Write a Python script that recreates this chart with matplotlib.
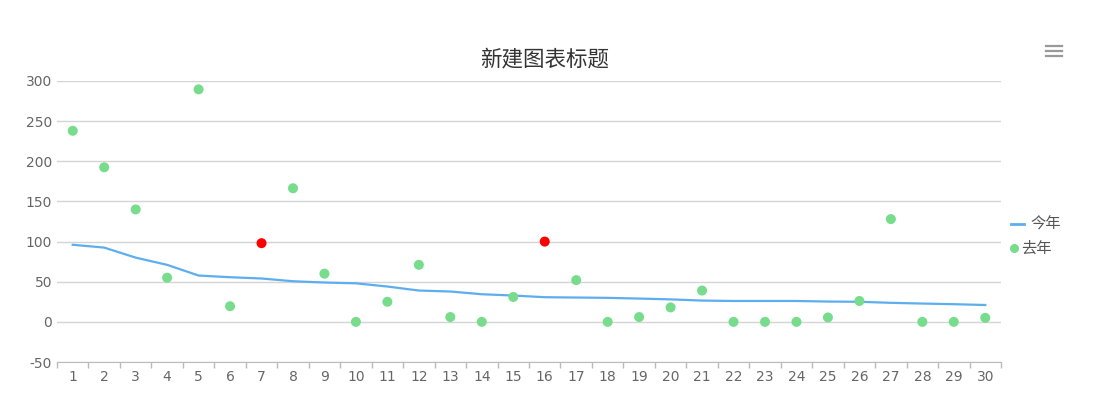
import matplotlib
matplotlib.use("Agg")
import matplotlib.pyplot as plt
from matplotlib.lines import Line2D
import numpy as np

plt.rcParams['font.family'] = ['Noto Sans CJK SC', 'DejaVu Sans']

categories = [str(i) for i in range(1, 31)]
this_year = [96, 92.5, 80, 71, 57.7, 55.6, 54, 50.6, 49, 48, 44, 39, 37.8, 34.4, 32.8,
             30.7, 30.3, 29.9, 29, 28, 26.5, 26, 26, 26, 25.3, 25, 23.7, 22.8, 22, 21]
last_year = [238, 192.5, 140, 55, 289.6, 19.5, 98, 166.4, 60, 0, 25, 71, 6, 0, 31,
             100, 52, 0, 6, 18, 39, 0, 0, 0, 5.5, 26, 128, 0, 0, 5]
highlight = [6, 15]  # indices of points shown in red
series_names = ["今年", "去年"]
title = "新建图表标题"
yticks = [-50, 0, 50, 100, 150, 200, 250, 300]

W, H = 1099, 398
fig = plt.figure(figsize=(W / 100, H / 100), dpi=100)
ax = fig.add_axes([57 / W, 1 - 362 / H, (1001 - 57) / W, (362 - 81) / H])

x = np.arange(len(categories))
line_color = '#5DAEEF'
green = '#77DD8C'
red = '#FF0000'

ax.plot(x, this_year, color=line_color, lw=1.6, zorder=3, label=series_names[0])
colors = [red if i in highlight else green for i in range(len(last_year))]
ax.scatter(x, last_year, s=52, c=colors, zorder=4, linewidths=0, label=series_names[1])

tick_font = ['DejaVu Sans']
ax.set_xlim(-0.5, len(categories) - 0.5)
ax.set_ylim(-50, 300)
ax.set_yticks(yticks)
ax.set_yticklabels([str(v) for v in yticks], family=tick_font)
ax.set_xticks(x)
ax.set_xticklabels(categories, family=tick_font)
ax.set_xticks(np.arange(-0.5, len(categories), 1), minor=True)
ax.tick_params(axis='x', which='major', length=0, pad=6, labelsize=10, labelcolor='#666666')
ax.tick_params(axis='x', which='minor', length=4, color='#bbbbbb', width=1)
ax.tick_params(axis='y', length=0, pad=3.5, labelsize=10, labelcolor='#666666')

ax.grid(axis='y', color='#d4d4d4', lw=1)
ax.set_axisbelow(True)
for s in ['top', 'right', 'left']:
    ax.spines[s].set_visible(False)
ax.spines['bottom'].set_color('#bbbbbb')

fig.text(545 / W, 1 - 59 / H, title, ha='center', va='center', fontsize=15.5, color='#333333')

# legend (drawn at fixed figure positions)
fig.add_artist(Line2D([1011 / W, 1024 / W], [1 - 224 / H, 1 - 224 / H],
                      color=line_color, lw=2, transform=fig.transFigure))
fig.text(1030 / W, 1 - 224 / H, series_names[0], ha='left', va='center',
         fontsize=11, color='#555555')
fig.add_artist(Line2D([1013.5 / W], [1 - 248 / H], marker='o', markersize=6.5,
                      color=green, markeredgewidth=0, transform=fig.transFigure))
fig.text(1021 / W, 1 - 248 / H, series_names[1], ha='left', va='center',
         fontsize=11, color='#555555')

# menu icon
for yy in [46, 51, 56]:
    fig.add_artist(Line2D([1046 / W, 1062 / W], [1 - yy / H, 1 - yy / H],
                          color='#999999', lw=1.6, transform=fig.transFigure))

fig.savefig('out.png', dpi=100)
